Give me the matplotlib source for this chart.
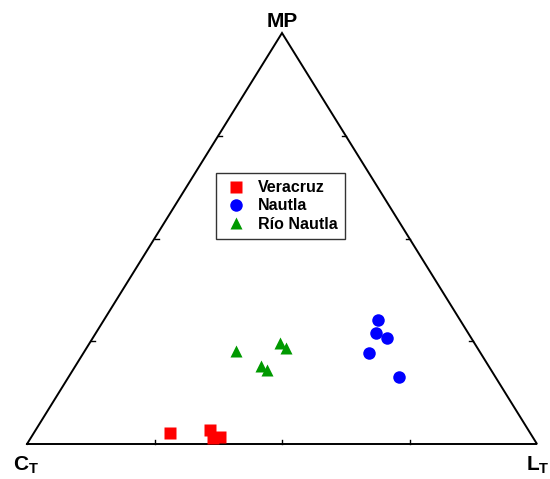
import matplotlib.pyplot as plt
import numpy as np

plt.rcParams['font.family'] = 'Liberation Sans'
plt.rcParams['font.weight'] = 'bold'
plt.rcParams['mathtext.fontset'] = 'custom'
plt.rcParams['mathtext.bf'] = 'Liberation Sans:bold'
plt.rcParams['mathtext.rm'] = 'Liberation Sans:bold'

# composiciones (%) : C_T, L_T, MP
veracruz_c = [70.6, 62.4, 62.8, 61.3]
veracruz_l = [26.7, 34.2, 35.8, 37.0]
veracruz_mp = [2.7, 3.4, 1.5, 1.7]

nautla_c = [16.1, 18.1, 16.5, 21.9, 19.0]
nautla_l = [53.7, 54.9, 57.7, 56.0, 64.7]
nautla_mp = [30.2, 27.0, 25.8, 22.1, 16.3]

rio_c = [47.7, 38.1, 37.5, 44.6, 43.9]
rio_l = [29.7, 37.3, 39.1, 36.4, 38.1]
rio_mp = [22.6, 24.6, 23.4, 19.0, 18.0]

ticks = [0.25, 0.5, 0.75]


def tern(c, l, mp):
    c, l, mp = np.asarray(c), np.asarray(l), np.asarray(mp)
    s = c + l + mp
    l, mp = l / s, mp / s
    return l + mp / 2, mp


fig = plt.figure(figsize=(5.5, 4.79), dpi=100)
ax = fig.add_axes([0, 0, 1, 1])
ax.set_xlim(-27 / 510, 523 / 510)
ax.set_ylim(-35 / 411, 444 / 411)
ax.axis('off')

# triangulo
ax.plot([0, 1, 0.5, 0], [0, 0, 1, 0], color='black', lw=1.4, solid_joinstyle='miter', zorder=2)

# marcas en los lados
dx = 4 / 510
dy = 4 / 411
for t in ticks:
    ax.plot([t, t], [0, dy], color='black', lw=1)
    ax.plot([t / 2, t / 2 + dx], [t, t], color='black', lw=1)
    ax.plot([1 - t / 2, 1 - t / 2 - dx], [t, t], color='black', lw=1)

x, y = tern(veracruz_c, veracruz_l, veracruz_mp)
ax.plot(x, y, 's', color='#ff0000', ms=8.5, mec='none', label='Veracruz', zorder=3)
x, y = tern(nautla_c, nautla_l, nautla_mp)
ax.plot(x, y, 'o', color='#0000ff', ms=9, mec='none', label='Nautla', zorder=3)
x, y = tern(rio_c, rio_l, rio_mp)
ax.plot(x, y, '^', color='#009900', ms=9, mec='none', label='Río Nautla', zorder=3)

ax.text(0.5, 417 / 411, 'MP', ha='center', va='baseline', fontsize=15, fontweight='bold')
ax.text(-0.002, -26 / 411, r'$\mathbf{C}_{\mathbf{T}}$', ha='center', va='baseline', fontsize=15)
ax.text(1.002, -26 / 411, r'$\mathbf{L}_{\mathbf{T}}$', ha='center', va='baseline', fontsize=15)

leg = ax.legend(loc='upper left', bbox_to_anchor=(216 / 550, 1 - 173 / 479),
                frameon=True, fancybox=False, fontsize=11.5, borderaxespad=0,
                handlelength=1.6, handletextpad=0.57, labelspacing=0.2,
                borderpad=0.45)
leg.get_frame().set_edgecolor('black')
leg.get_frame().set_linewidth(1)

fig.savefig('out.png', dpi=100)
